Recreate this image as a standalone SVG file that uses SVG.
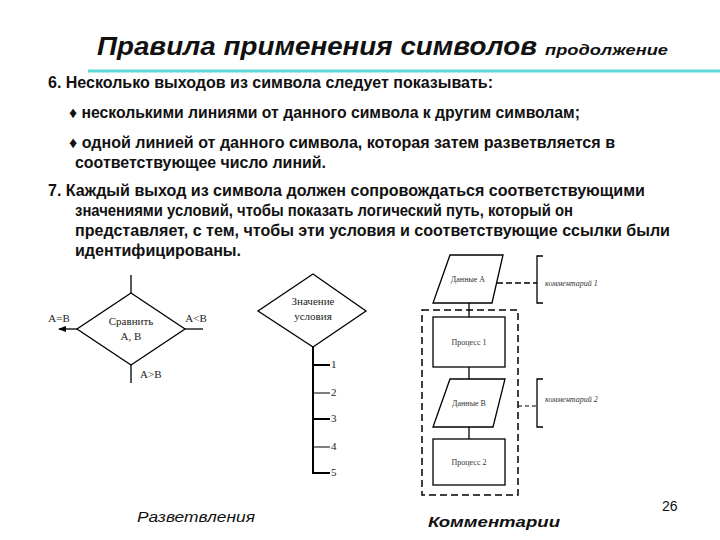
<svg xmlns="http://www.w3.org/2000/svg" width="720" height="540" viewBox="0 0 720 540">
<style>
.t{font-family:"Liberation Sans",Arial,sans-serif;font-weight:bold;font-size:16px;fill:#111}
.s{font-family:"Liberation Serif","Times New Roman",serif;font-size:11px;fill:#222}
.xs{font-family:"Liberation Serif","Times New Roman",serif;font-size:8px;fill:#333}
.xi{font-family:"Liberation Serif","Times New Roman",serif;font-size:8px;font-style:italic;fill:#333}
.c{font-family:"Liberation Sans",Arial,sans-serif;font-style:italic;font-size:15px;fill:#111}
.sh{fill:#fff;stroke:#000;stroke-width:1.3}
.ln{fill:none;stroke:#000;stroke-width:1.3}
.dl{fill:none;stroke:#000;stroke-width:1.5;stroke-dasharray:6,3}
</style>
<defs><marker id="ar" markerWidth="8" markerHeight="8" refX="7" refY="4" orient="auto" markerUnits="userSpaceOnUse"><path d="M0,1 L8,4 L0,7 Z" fill="#000"/></marker></defs>
<rect width="720" height="540" fill="#fff"/>
<text x="97" y="55" font-family="Liberation Sans,Arial,sans-serif" font-style="italic" font-weight="bold" font-size="26" fill="#111" textLength="440" lengthAdjust="spacingAndGlyphs">Правила применения символов</text>
<text x="545" y="55" font-family="Liberation Sans,Arial,sans-serif" font-style="italic" font-weight="bold" font-size="15" fill="#111" textLength="123" lengthAdjust="spacingAndGlyphs">продолжение</text>
<line x1="88" y1="71" x2="720" y2="71" stroke="#5fd8d8" stroke-width="3"/>
<text class="t" x="48" y="88" textLength="445" lengthAdjust="spacingAndGlyphs">6. Несколько выходов из символа следует показывать:</text>
<text class="t" x="69" y="118" textLength="511" lengthAdjust="spacingAndGlyphs">♦ несколькими линиями от данного символа к другим символам;</text>
<text class="t" x="69" y="148" textLength="546" lengthAdjust="spacingAndGlyphs">♦ одной линией от данного символа, которая затем разветвляется в</text>
<text class="t" x="75" y="168" textLength="251" lengthAdjust="spacingAndGlyphs">соответствующее число линий.</text>
<text class="t" x="48" y="196" textLength="597" lengthAdjust="spacingAndGlyphs">7. Каждый выход из символа должен сопровождаться соответствующими</text>
<text class="t" x="75" y="216" textLength="498" lengthAdjust="spacingAndGlyphs">значениями условий, чтобы показать логический путь, который он</text>
<text class="t" x="75" y="236" textLength="595" lengthAdjust="spacingAndGlyphs">представляет, с тем, чтобы эти условия и соответствующие ссылки были</text>
<text class="t" x="75" y="256" textLength="166" lengthAdjust="spacingAndGlyphs">идентифицированы.</text>

<g id="connectors">
<line class="ln" x1="131" y1="275" x2="131" y2="293"/>
<line class="ln" x1="131" y1="365" x2="131" y2="383"/>
<line class="ln" x1="77" y1="329" x2="59" y2="329" marker-end="url(#ar)"/>
<line class="ln" x1="185" y1="329" x2="203" y2="329"/>
<line x1="313" y1="347" x2="313" y2="474" stroke="#000" stroke-width="2"/>
<line x1="313" y1="365" x2="330" y2="365" stroke="#000" stroke-width="2"/>
<line x1="313" y1="393" x2="330" y2="393" stroke="#000" stroke-width="1"/>
<line x1="313" y1="419" x2="330" y2="419" stroke="#000" stroke-width="2"/>
<line x1="313" y1="447" x2="330" y2="447" stroke="#000" stroke-width="1"/>
<line x1="313" y1="473" x2="330" y2="473" stroke="#000" stroke-width="2"/>
<line class="ln" x1="469" y1="303" x2="469" y2="317"/>
<line class="ln" x1="469" y1="367" x2="469" y2="379"/>
<line class="ln" x1="469" y1="427" x2="469" y2="439"/>
<line class="dl" x1="497" y1="283" x2="537" y2="283"/>
<line x1="518" y1="406" x2="537" y2="406" stroke="#000" stroke-width="1.2" stroke-dasharray="4,3"/>
</g>

<g id="compare">
<polygon class="sh" points="131,293 185,329 131,365 77,329"/>
<text class="s" x="131" y="325" text-anchor="middle">Сравнить</text>
<text class="s" x="131" y="340" text-anchor="middle">A, B</text>
<text class="s" x="59" y="322" text-anchor="middle">A=B</text>
<text class="s" x="196" y="322" text-anchor="middle">A&lt;B</text>
<text class="s" x="140" y="378">A&gt;B</text>
</g>
<g id="cond">
<polygon class="sh" points="313,274 366,311 313,347 258,311"/>
<text class="s" x="313" y="305" text-anchor="middle">Значение</text>
<text class="s" x="313" y="320" text-anchor="middle">условия</text>
<text class="s" x="331" y="368">1</text>
<text class="s" x="331" y="396">2</text>
<text class="s" x="331" y="422">3</text>
<text class="s" x="331" y="450">4</text>
<text class="s" x="331" y="476">5</text>
</g>

<g id="group"><rect x="422" y="310" width="96" height="185" fill="none" stroke="#000" stroke-width="1.5" stroke-dasharray="7,4"/></g>
<g id="dataA"><polygon class="sh" points="450,255 503,255 492,303 433,303"/><text class="xs" x="468" y="282" text-anchor="middle">Данные A</text></g>
<g id="proc1"><rect class="sh" x="433" y="317" width="72" height="50"/><text class="xs" x="469" y="345" text-anchor="middle">Процесс 1</text></g>
<g id="dataB"><polygon class="sh" points="450,379 505,379 493,427 433,427"/><text class="xs" x="469" y="406" text-anchor="middle">Данные B</text></g>
<g id="proc2"><rect class="sh" x="433" y="439" width="72" height="46"/><text class="xs" x="469" y="465" text-anchor="middle">Процесс 2</text></g>
<g id="comment1"><path class="ln" d="M543,256 H537 V303 H543"/><text class="xi" x="545" y="286">комментарий 1</text></g>
<g id="comment2"><path class="ln" d="M543,379 H537 V427 H543"/><text class="xi" x="545" y="402">комментарий 2</text></g>

<text class="c" x="137" y="522" textLength="118" lengthAdjust="spacingAndGlyphs">Разветвления</text>
<text class="c" x="428" y="527" font-weight="bold" textLength="132" lengthAdjust="spacingAndGlyphs">Комментарии</text>
<text x="662" y="511" font-family="Liberation Sans,Arial,sans-serif" font-size="14" fill="#111">26</text>
</svg>
